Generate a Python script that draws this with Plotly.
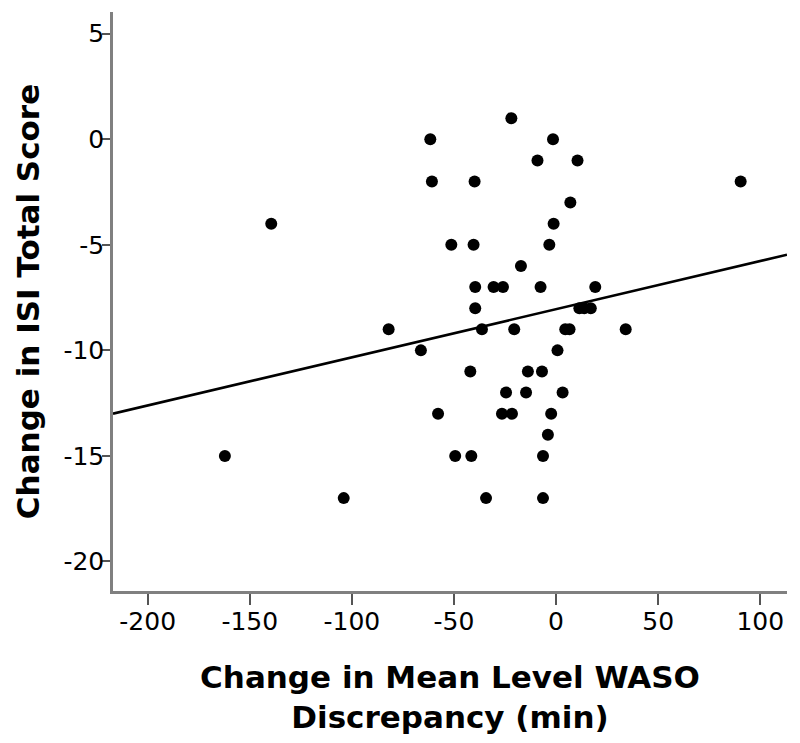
import plotly.graph_objects as go

# Change in mean level WASO discrepancy (min) and change in ISI total score
waso_change = [
    -21.9,
    -61.6, -1.5,
    -9.1, 10.5,
    -60.8, -39.9, 90.4,
    7.0,
    -139.5, -1.2,
    -51.3, -40.4, -3.3,
    -17.2,
    -39.6, -30.6, -26.0, -7.6, 19.2,
    -39.6, 11.4, 13.8, 17.0,
    -82.0, -36.3, -20.5, 4.5, 6.6, 34.1,
    -66.2, 0.7,
    -42.0, -13.8, -6.9,
    -24.5, -14.7, 3.2,
    -57.8, -26.5, -21.6, -2.4,
    -4.0,
    -162.2, -49.4, -41.5, -6.4,
    -104.0, -34.3, -6.4,
]
isi_change = [
    1,
    0, 0,
    -1, -1,
    -2, -2, -2,
    -3,
    -4, -4,
    -5, -5, -5,
    -6,
    -7, -7, -7, -7, -7,
    -8, -8, -8, -8,
    -9, -9, -9, -9, -9, -9,
    -10, -10,
    -11, -11, -11,
    -12, -12, -12,
    -13, -13, -13, -13,
    -14,
    -15, -15, -15, -15,
    -17, -17, -17,
]

# Fit line
fit_intercept = -8.05
fit_slope = 0.0228

x_range = [-217, 113.1]
y_range = [-21.4, 6.03]
x_ticks = [-200, -150, -100, -50, 0, 50, 100]
y_ticks = [5, 0, -5, -10, -15, -20]

fit_x = x_range
fit_y = [fit_intercept + fit_slope * v for v in fit_x]

fig = go.Figure()
fig.add_trace(go.Scatter(
    x=fit_x, y=fit_y, mode="lines",
    line=dict(color="black", width=2.6),
    showlegend=False, hoverinfo="skip",
))
fig.add_trace(go.Scatter(
    x=waso_change, y=isi_change, mode="markers",
    marker=dict(color="black", size=12, line=dict(width=0)),
    showlegend=False,
))

tick_font = dict(family="DejaVu Sans", size=25, color="black")
title_font = dict(family="DejaVu Sans", size=31, color="black")

fig.update_layout(
    width=800, height=743,
    margin=dict(l=105, r=21, t=4, b=160, autoexpand=False),
    paper_bgcolor="white", plot_bgcolor="white",
    xaxis=dict(
        range=x_range, tickvals=x_ticks,
        ticktext=[str(v) for v in x_ticks],
        showgrid=False, zeroline=False,
        showline=True, linecolor="#808080", linewidth=2.5,
        ticks="outside", ticklen=11, tickwidth=2, tickcolor="#555555",
        tickfont=tick_font, ticklabelstandoff=-5,
        title=dict(text="<b>Change in Mean Level WASO<br>Discrepancy (min)</b>",
                   font=title_font, standoff=32),
        automargin=False,
    ),
    yaxis=dict(
        range=y_range, tickvals=y_ticks,
        ticktext=[str(v) for v in y_ticks],
        showgrid=False, zeroline=False,
        showline=True, linecolor="#808080", linewidth=2.5,
        ticks="outside", ticklen=8, tickwidth=2, tickcolor="#555555",
        tickfont=tick_font, ticklabelstandoff=-7,
        title=dict(text="<b>Change in ISI Total Score</b>",
                   font=title_font, standoff=15),
        automargin=False,
    ),
)

fig.write_html("out.html")
